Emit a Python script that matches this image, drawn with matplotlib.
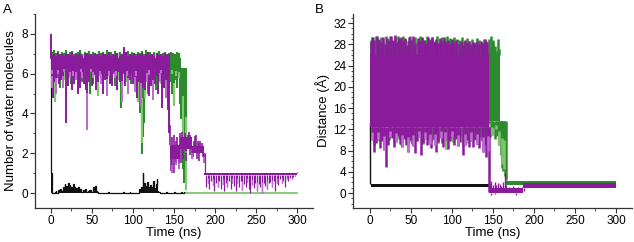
import numpy as np
import matplotlib
matplotlib.use("Agg")
import matplotlib.pyplot as plt
from matplotlib.ticker import MultipleLocator

plt.rcParams['font.family'] = ['Liberation Sans', 'DejaVu Sans']

# ================= Panel A : number of water molecules =================
# band segments: (t_start, t_end, low, high)  -- times in ns
green_A_bands = [(0.5, 158.5, 6.3, 6.8), (165, 300, -0.04, 0.04)]
green_A_spikes = [(3, 5.5), (5.5, 4.6), (8, 5.8), (12, 5.3), (16, 5.7), (20, 5.9), (25, 5.5),
                  (30, 5.8), (34, 5.4), (38, 5.6), (43, 5.8), (48, 5.0), (52, 5.5), (57, 4.9),
                  (61, 5.7), (64, 5.3), (68, 5.8), (73, 5.6), (78, 5.4), (82, 5.7), (86, 4.3),
                  (90, 5.8), (93, 5.6), (98, 5.5), (104, 5.2), (106, 4.6), (109, 4.0), (110.5, 1.95),
                  (111.5, 2.5), (112.5, 2.8), (113.5, 3.5), (114.5, 4.8), (118, 5.0), (121, 5.7),
                  (124, 5.4), (128, 5.2), (131, 5.8), (134, 5.5), (137, 5.3), (140, 5.4), (143, 4.9),
                  (145.5, 5.9), (146.5, 5.6), (147.5, 6.0), (148, 5.0), (149, 5.8), (150, 4.4),
                  (151, 6.0), (152, 5.7), (153, 5.9), (154, 5.3), (155, 6.0), (156, 5.8), (157.5, 4.5),
                  (159, 3.7), (160.5, 2.8), (161.5, 1.2), (162.5, 0.5), (164, 0.15)]
# upper edge of the green trace (sampled every 2.5 ns from 1.25 ns)
green_A_top = [7.1, 7.2, 7.05, 7.15, 7.0, 7.1, 7.05, 7.2, 7.0, 7.1, 7.15, 7.0, 7.05, 7.1, 7.2,
               7.0, 7.1, 7.05, 7.15, 7.0, 7.1, 7.05, 7.0, 7.15, 7.05, 7.1, 7.0, 7.2, 7.05, 7.1,
               7.0, 7.15, 7.05, 7.1, 7.0, 7.1, 7.05, 7.15, 7.0, 7.1, 7.05, 7.0, 7.1, 7.05, 7.15,
               7.0, 7.2, 7.05, 7.1, 7.0, 7.1, 7.05, 7.15, 7.0, 7.05, 7.1, 7.0, 7.05, 7.1, 7.05,
               7.0, 7.1, 7.05]

purple_A_bands = [(0.5, 145, 6.3, 6.75), (145, 157, 1.7, 2.4), (157, 172, 2.2, 2.8),
                  (172, 187, 2.0, 2.35), (187, 300, 0.9, 1.0)]
purple_A_spikes = [(0.3, 8.0), (1.5, 5.3), (3, 4.8), (5, 5.6), (7, 5.0), (10, 5.5), (12.5, 5.7),
                   (15, 5.3), (18.5, 3.5), (21, 5.4), (24, 5.8), (26, 5.2), (28.5, 5.5), (31, 5.7),
                   (33, 5.0), (35.5, 5.3), (38, 5.8), (40.5, 5.5), (42.5, 5.2), (44.5, 3.15),
                   (47, 5.6), (50, 5.4), (52, 5.8), (55, 5.2), (58, 5.6), (61, 5.5), (63.5, 5.0),
                   (66, 5.7), (69, 4.9), (72, 5.5), (75, 5.4), (78, 5.8), (81, 5.2), (84, 5.6),
                   (86.5, 4.6), (89, 7.35), (91, 5.4), (94, 5.0), (97, 5.7), (100, 5.5), (102.5, 5.1),
                   (105, 4.8), (107.5, 5.6), (110, 4.4), (112.5, 5.3), (115, 5.2), (117.5, 5.6),
                   (120, 4.9), (122.5, 5.4), (125, 4.7), (127.5, 5.5), (130, 5.0), (132.5, 5.6),
                   (135, 4.3), (137.5, 5.3), (140, 4.8), (142.5, 4.2), (144.5, 3.0),
                   (2, 6.0), (4, 6.1), (6, 5.9), (8.5, 6.0), (11, 6.15), (14, 5.9), (16.5, 6.1),
                   (19.5, 6.0), (23, 6.1), (27, 5.9), (30, 6.05), (34, 6.0), (37, 6.1), (39.5, 5.9),
                   (45.5, 6.0), (49, 6.1), (53.5, 5.95), (57, 6.1), (60, 5.9), (65, 6.0), (68, 6.1),
                   (71, 5.9), (74, 6.05), (77, 6.0), (80, 5.9), (83, 6.1), (88, 6.0), (92.5, 5.9),
                   (96, 6.05), (99, 6.0), (104, 5.9), (109, 6.0), (114, 6.1), (119, 5.95), (124, 6.0),
                   (129, 5.9), (134, 6.05), (139, 6.0), (143.5, 5.9),
                   (145.3, 3.4), (146, 1.1), (147, 2.8), (148, 1.0), (149.5, 2.9), (150.5, 1.0),
                   (152, 1.4), (153, 2.6), (154, 2.8), (155.5, 1.2), (157, 3.0), (158.5, 1.5),
                   (160, 3.05), (161.5, 1.7), (163, 3.0), (164, 2.0), (165, 1.6), (166.5, 2.9),
                   (168, 3.05), (169, 1.9), (170, 2.9), (171.5, 1.7), (173, 1.8), (174, 2.6),
                   (175, 2.85), (176.5, 2.9), (178, 1.7), (179, 2.6), (180, 1.6), (181, 2.5),
                   (182, 2.6), (183.5, 2.5), (185, 1.8), (186.5, 1.5), (187.3, 2.0),
                   (189, 0.3), (191, 0.5), (193, 0.2), (195, 0.6), (197, 0.4), (199, 0.1),
                   (201, 0.5), (203, 0.3), (205, 0.6), (207, 0.2), (209, 0.45), (211, 0.1),
                   (213, 0.5), (215, 0.3), (217, 0.6), (219, 0.2), (221, 0.5), (223, 0.35),
                   (225, 0.1), (227, 0.5), (229, 0.3), (231, 0.6), (233, 0.15), (235, 0.45),
                   (237, 0.3), (239, 0.55), (241, 0.2), (243, 0.0), (245, 0.4), (247, 0.25),
                   (249, 0.5), (251, 0.1), (253, 0.45), (255, 0.3), (257, 0.0), (259, 0.5),
                   (261, 0.35), (263, 0.2), (265, 0.5), (267, 0.55), (269, 0.3), (271, 0.6),
                   (273, 0.1), (275, 0.5), (277, 0.4), (279, 0.7), (281, 0.5), (283, 0.6),
                   (285, 0.3), (287, 0.7), (289, 0.6), (291, 0.75), (293, 0.7), (295, 0.8),
                   (297, 0.85), (299, 1.05)]
# upper edge of the purple trace (sampled every 2.5 ns from 1.25 ns)
purple_A_top = [6.95, 7.0, 6.9, 7.05, 6.95, 7.0, 6.9, 7.05, 7.0, 6.95, 7.1, 6.9, 7.0, 6.95, 7.05,
                6.9, 7.0, 7.05, 6.95, 7.0, 6.9, 7.05, 6.95, 7.0, 6.9, 7.05, 7.0, 6.95, 7.1, 6.9,
                7.0, 6.95, 7.05, 6.9, 7.0, 6.95, 7.1, 6.9, 7.0, 6.95, 7.05, 6.9, 7.0, 6.95, 7.05,
                6.9, 7.0, 7.1, 6.95, 7.0, 6.9, 7.05, 6.95, 7.0, 6.9, 7.05, 6.95, 7.0]

black_A = [(0, 7.0), (0.4, 1.0), (2.2, 0.0), (5, 0.05), (6, 0.1), (7, 0.0), (9, 0.15), (10, 0.05),
           (12, 0.2), (13, 0.1), (15, 0.3), (16, 0.15), (17, 0.45), (18, 0.2), (19, 0.35),
           (20, 0.1), (21, 0.5), (22, 0.25), (23, 0.4), (24, 0.15), (25, 0.3), (26, 0.1),
           (27, 0.45), (28, 0.2), (29, 0.3), (30, 0.1), (31, 0.25), (32, 0.15), (33, 0.3),
           (34, 0.1), (36, 0.2), (37, 0.05), (39, 0.15), (40, 0.1), (42, 0.2), (43, 0.05),
           (45, 0.1), (47, 0.15), (49, 0.05), (51, 0.1), (52, 0.3), (53, 0.25), (54, 0.35),
           (55, 0.1), (56, 0.05), (58, 0.0), (70, 0.05), (71, 0.0), (88, 0.05), (89, 0.0),
           (96, 0.05), (97, 0.0), (107, 0.05), (108, 0.2), (109, 0.1), (110, 0.3), (111, 0.15),
           (112, 1.0), (112.7, 0.2), (113.5, 0.5), (114.3, 0.1), (115, 0.35), (116, 0.2),
           (117, 0.55), (118, 0.1), (119, 0.3), (120, 0.15), (121, 0.4), (122, 0.1), (123, 0.3),
           (124, 0.2), (125, 0.6), (125.8, 0.1), (126.5, 0.25), (127.3, 0.1), (128, 0.45),
           (129, 0.7), (129.8, 0.1), (131, 0.05), (133, 0.0), (140, 0.05), (141, 0.0),
           (150, 0.05), (151, 0.0), (158, 0.05), (160, 0.0), (162, 0.05), (164, 0.05)]

# ================= Panel B : distance (Å) =================
black_B_bands = [(0.8, 148, 1.2, 1.75)]
black_B_spikes = [(0.5, 13.3)]

green_B_bands = [(0.5, 158.5, 13.5, 26.0), (166, 300, 1.5, 2.2)]
green_B_spikes = [(1.5, 28.8), (4, 29.3), (7, 29.6), (10, 28.9), (13, 29.4), (16, 28.5), (19, 29.5),
                  (22, 29.0), (25, 29.6), (28, 28.7), (31, 29.3), (34, 29.5), (37, 28.8), (40, 29.6),
                  (43, 29.2), (46, 28.6), (49, 29.5), (52, 29.0), (55, 29.4), (58, 28.7), (61, 29.6),
                  (64, 29.1), (67, 28.8), (70, 29.5), (73, 29.0), (76, 29.3), (79, 28.6), (82, 29.5),
                  (85, 29.0), (88, 29.4), (91, 28.8), (94, 29.6), (97, 29.1), (100, 28.7), (103, 29.4),
                  (106, 29.0), (109, 28.8), (112, 29.3), (115, 28.7), (118, 29.2), (121, 28.6),
                  (124, 29.0), (127, 28.5), (130, 29.1), (133, 28.8), (136, 28.5), (139, 29.0),
                  (142, 28.7), (145, 29.0), (146.5, 27.5), (148, 29.6), (149.5, 28.2), (150, 28.8),
                  (151.5, 27.0), (153, 27.6), (154.5, 26.8), (156, 29.0), (157.5, 27.2),
                  (2, 10.5), (5, 9.0), (8, 11.0), (11, 9.8), (14, 10.8), (17, 8.8), (20, 11.2),
                  (23, 10.0), (26, 10.8), (29, 9.5), (32, 11.0), (35, 10.2), (38, 9.0), (41, 11.0),
                  (44, 10.0), (47, 9.6), (50, 10.8), (53, 11.2), (56, 9.8), (59, 10.5), (62, 11.0),
                  (65, 9.3), (68, 10.6), (71, 11.0), (74, 9.8), (77, 10.4), (80, 11.0), (83, 9.5),
                  (86, 10.6), (89, 11.2), (92.5, 8.3), (95, 10.0), (98, 10.8), (101, 9.6),
                  (104, 10.5), (107, 9.0), (110, 10.8), (113, 8.8), (116, 10.2), (119, 9.5),
                  (122, 10.8), (125, 9.8), (128, 10.5), (131, 9.2), (134, 10.6), (137, 9.8),
                  (140, 10.9), (143, 10.2), (145.5, 12.5), (146, 10.5), (147.5, 12.0), (149, 11.0),
                  (150.5, 12.3), (152, 10.2), (153.5, 12.0), (155, 10.8), (156.5, 11.8),
                  (157, 9.0), (158.5, 12.0), (159.5, 7.2), (160.5, 5.5), (161.5, 4.8), (162.5, 4.2),
                  (163.5, 4.5), (164.5, 3.2), (165.5, 2.4)]

purple_B_bands = [(0.5, 145, 12.5, 26.0), (145, 187, 0.1, 0.9), (187, 300, 0.9, 1.85)]
purple_B_spikes = [(1, 28.5), (3, 29.4), (5.5, 28.8), (8, 29.5), (10.5, 29.0), (13, 28.4), (15.5, 29.3),
                   (18, 28.0), (20.5, 29.2), (23, 28.7), (25.5, 29.5), (28, 28.9), (30.5, 29.7),
                   (33, 28.5), (35.5, 29.2), (38, 29.4), (40.5, 28.6), (43, 29.0), (45.5, 27.8),
                   (48, 29.3), (50.5, 28.8), (53, 29.5), (55.5, 28.3), (58, 29.1), (60.5, 28.7),
                   (63, 29.4), (65.5, 28.9), (68, 28.2), (70.5, 29.3), (73, 28.8), (75.5, 29.4),
                   (78, 28.5), (80.5, 29.0), (83, 28.3), (85.5, 29.2), (88, 28.7), (90.5, 29.3),
                   (93, 28.4), (95.5, 28.9), (98, 28.2), (100.5, 29.0), (103, 28.5), (105.5, 28.8),
                   (108, 28.0), (110.5, 28.6), (113, 27.9), (115.5, 28.8), (118, 28.3), (120.5, 28.6),
                   (123, 28.0), (125.5, 28.5), (128, 28.2), (130.5, 28.7), (133, 28.0), (135.5, 28.6),
                   (138, 28.3), (140.5, 29.0), (143, 28.5),
                   (2, 10.0), (4.5, 7.8), (7, 9.4), (9.5, 10.2), (12, 8.5), (14.5, 9.8), (17, 8.2),
                   (19, 5.0), (21.5, 9.0), (24, 10.5), (26.5, 10.3), (29, 8.6), (31.5, 9.7),
                   (34, 10.8), (36.5, 9.2), (38.6, 8.7), (41, 10.2), (43.5, 9.0), (46, 7.8),
                   (48.5, 10.0), (51, 9.3), (53, 8.8), (55, 7.5), (57.5, 9.8), (60, 10.5), (62, 7.2),
                   (64.5, 9.5), (67, 10.2), (69, 9.0), (71.5, 10.0), (73.5, 9.2), (75, 8.4),
                   (77.5, 10.0), (79, 9.0), (81, 7.8), (83.5, 9.6), (86, 10.3), (88, 9.5), (89.5, 8.7),
                   (92, 10.0), (95, 8.3), (97.5, 9.8), (100, 10.5), (102.5, 9.0), (105, 10.2),
                   (107.5, 8.8), (110, 9.6), (113, 7.2), (115.5, 9.0), (118, 10.0), (120.5, 8.6),
                   (123, 9.8), (126, 8.7), (128.5, 10.0), (131, 9.2), (133.5, 8.5), (136, 10.0),
                   (138, 7.8), (140, 9.0), (142, 6.8), (144, 8.0), (144.8, 0.2),
                   (146, 1.9), (148, 2.2), (150, 1.6), (152, 2.0), (154, 1.5), (156, 1.9), (158, 1.7),
                   (160, 1.4), (162, 2.0), (164.5, 3.8), (166, 1.5), (170, 1.2), (175, 1.3),
                   (180, 1.1), (185, 1.2), (147, -0.3), (153, -0.2), (178, -0.3), (187.3, 0.4)]

x_ticks = [0, 50, 100, 150, 200, 250, 300]
A_yticks = [0, 2, 4, 6, 8]
B_yticks = [0, 4, 8, 12, 16, 20, 24, 28, 32]

PURPLE, PURPLE_L = '#8A1C9C', '#C06FD0'
GREEN, GREEN_L = '#2E8A2E', '#7FC86C'
BLACK = '#111111'


def band_for(bands, t):
    for i, b in enumerate(bands):
        if b[0] <= t <= b[1]:
            return i, b
    prev = [i for i, b in enumerate(bands) if b[1] <= t]
    i = prev[-1] if prev else 0
    return i, bands[i]


def draw_series(ax, bands, spikes, color, light, z, lws):
    for (s, e, lo, hi) in bands:
        ax.fill_between([s, e], [lo, lo], [hi, hi], color=color, lw=0, zorder=z)
    for i, (t, v) in enumerate(spikes):
        k, b = band_for(bands, t)
        lo, hi = b[2], b[3]
        if v < lo:
            ax.vlines(t, v, lo, color=color, lw=lws[k], zorder=z)
            if i % 3 == 1:
                # lighter tip on some of the downward excursions
                ax.vlines(t, v, v + 0.6 * (lo - v), color=light, lw=lws[k], zorder=z + 0.1)
        elif v > hi:
            ax.vlines(t, hi, v, color=color, lw=lws[k], zorder=z)


fig = plt.figure(figsize=(6.34, 2.42), dpi=100)
axA = fig.add_axes([0.0552, 0.1405, 0.4385, 0.8017])
axB = fig.add_axes([0.5568, 0.1405, 0.440, 0.8017])

# ---------------- Panel A ----------------
bt = [p[0] for p in black_A]
bv = [p[1] for p in black_A]
axA.step(bt, bv, where='post', color=BLACK, lw=0.9, zorder=2)
axA.fill_between(bt, 0, bv, step='post', color=BLACK, lw=0, zorder=2)

edge_t_green = 1.25 + 2.5 * np.arange(len(green_A_top))
edge_t_purple = 1.25 + 2.5 * np.arange(len(purple_A_top))

g_main = green_A_bands[0]
axA.vlines(edge_t_green, g_main[3], green_A_top, color=GREEN, lw=1.6, zorder=3)
draw_series(axA, green_A_bands[:1], green_A_spikes, GREEN, GREEN_L, 3, [1.5])
g0 = green_A_bands[1]
axA.plot([g0[0], g0[1]], [0, 0], color=GREEN_L, lw=1.3, zorder=3)

p_main = purple_A_bands[0]
axA.vlines(edge_t_purple, p_main[3], purple_A_top, color=PURPLE, lw=1.7, zorder=4)
draw_series(axA, purple_A_bands, purple_A_spikes, PURPLE, PURPLE_L, 4, [1.4, 1.2, 1.2, 1.2, 0.9])

axA.set_xlim(-19, 319)
axA.set_ylim(-0.75, 9.0)
axA.set_xticks(x_ticks)
axA.set_yticks(A_yticks)
axA.xaxis.set_minor_locator(MultipleLocator(25))
axA.yaxis.set_minor_locator(MultipleLocator(1))
axA.set_xlabel('Time (ns)', fontsize=9.5, labelpad=0)
axA.set_ylabel('Number of water molecules', fontsize=9.5, labelpad=3)

# ---------------- Panel B ----------------
draw_series(axB, black_B_bands, black_B_spikes, BLACK, BLACK, 2, [1.0])
draw_series(axB, green_B_bands, green_B_spikes, GREEN, GREEN_L, 3, [1.8, 1.0])
draw_series(axB, purple_B_bands, purple_B_spikes, PURPLE, PURPLE_L, 4, [1.8, 1.0, 1.0])

axB.set_xlim(-20.7, 319.5)
axB.set_ylim(-2.8, 33.7)
axB.set_xticks(x_ticks)
axB.set_yticks(B_yticks)
axB.xaxis.set_minor_locator(MultipleLocator(25))
axB.yaxis.set_minor_locator(MultipleLocator(1))
axB.set_xlabel('Time (ns)', fontsize=9.5, labelpad=0)
axB.set_ylabel('Distance (Å)', fontsize=9.5, labelpad=2)

for ax in (axA, axB):
    for s in ('top', 'right'):
        ax.spines[s].set_visible(False)
    for s in ('left', 'bottom'):
        ax.spines[s].set_color('#333333')
        ax.spines[s].set_linewidth(0.9)
    ax.tick_params(which='major', direction='out', length=3.5, width=0.8, color='#333333',
                   labelsize=8.5, pad=1.5)
    ax.tick_params(which='minor', direction='out', length=1.8, width=0.6, color='#333333')

fig.text(0.004, 0.985, 'A', fontsize=9.5, va='top', ha='left')
fig.text(0.497, 0.985, 'B', fontsize=9.5, va='top', ha='left')

fig.savefig('out.png', dpi=100)
